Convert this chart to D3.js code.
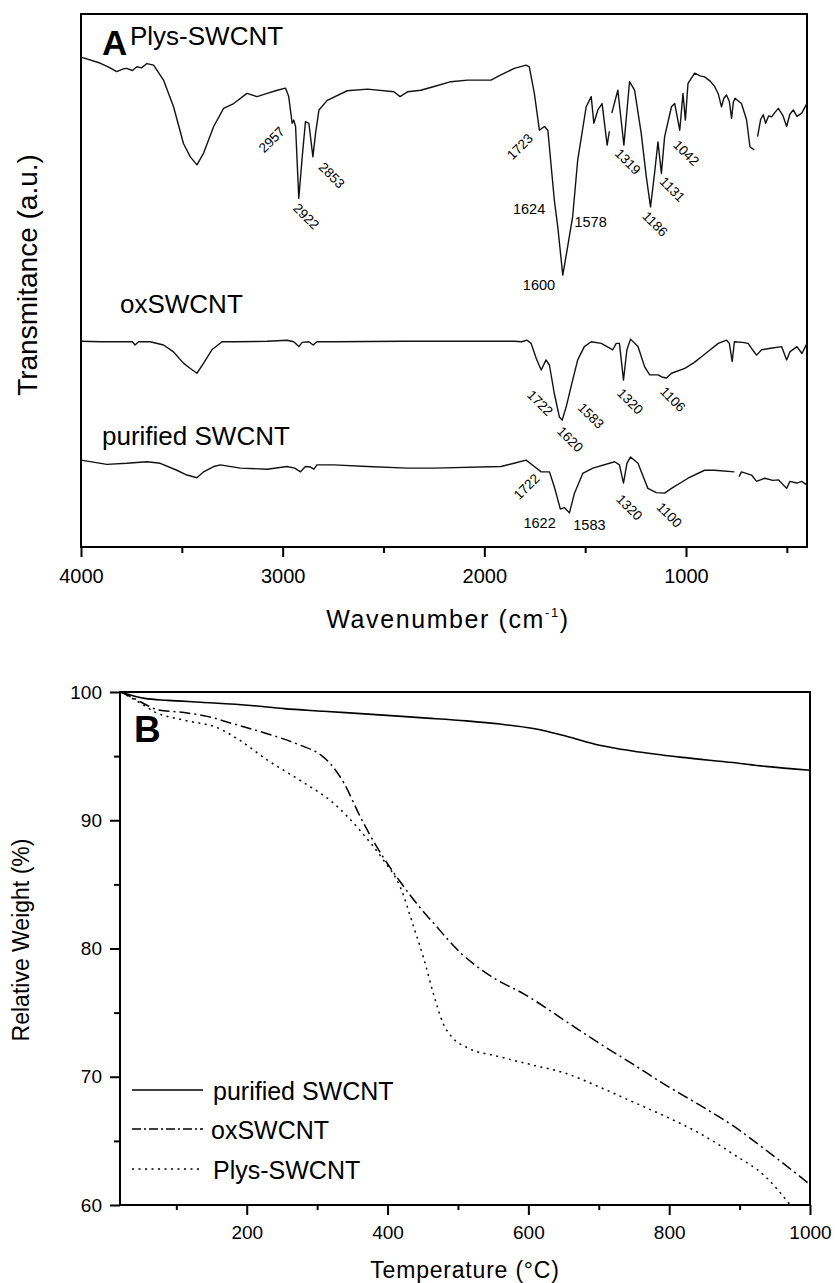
<!DOCTYPE html>
<html>
<head>
<meta charset="utf-8">
<script src="https://cdn.jsdelivr.net/npm/d3@7"></script>
<style>
  body { margin: 0; background: #fff; }
  svg { font-family: "Liberation Sans", Arial, Helvetica, sans-serif; }
</style>
</head>
<body>
<svg id="chart" width="835" height="1283"></svg>
<script>
// ---- Panel A: FTIR spectra, [wavenumber (cm-1), transmittance (a.u.)], null = break in trace
var plysIR = [
  [4000, 91.9], [3906, 90.8], [3860, 90.0], [3823, 89.2], [3790, 89.7], [3773, 89.8], [3745, 89.4],
  [3723, 90.1], [3700, 89.9], [3673, 90.7], [3640, 90.4], [3591, 87.6], [3541, 82.6], [3492, 75.7],
  [3458, 73.2], [3425, 71.7], [3392, 73.9], [3342, 78.9], [3293, 82.3], [3243, 83.2], [3177, 85.1],
  [3127, 84.5], [3077, 85.1], [3027, 85.7], [2986, 86.1], [2970, 84.5], [2953, 79.5], [2945, 80.1],
  [2936, 78.9], [2920, 65.4], [2903, 73.2], [2887, 79.8], [2870, 79.5], [2850, 73.2], [2837, 77.6],
  [2820, 82.0], [2779, 83.8], [2680, 85.6], [2580, 85.9], [2448, 85.4], [2418, 84.5], [2381, 85.4],
  [2315, 85.7], [2249, 86.4], [2166, 87.3], [2083, 87.6], [1967, 87.6], [1918, 88.6], [1851, 89.8],
  [1793, 90.4], [1777, 90.1], [1752, 85.1], [1727, 78.2], [1702, 78.9], [1685, 78.2], [1653, 65.1],
  [1636, 60.1], [1611, 51.0], [1587, 56.3], [1562, 62.0], [1537, 72.6], [1495, 82.6], [1470, 84.5],
  [1457, 79.5], [1437, 82.0], [1416, 83.2], [1391, 75.4], [1380, 78.0], [1374, null], [1368, 81.4],
  [1338, 85.7], [1308, 75.4], [1280, 87.3], [1255, 85.7], [1222, 77.6], [1197, 69.5], [1176, 63.8],
  [1156, 70.1], [1139, 76.0], [1122, 70.1], [1106, 77.0], [1072, 82.6], [1056, 83.2], [1031, 78.2],
  [1015, 85.1], [1003, 80.1], [990, 87.0], [957, 88.9], [930, 88.4], [908, 88.2], [880, 87.4],
  [858, 86.4], [840, 85.0], [824, 82.6], [812, 84.2], [799, 84.8], [785, 83.6], [774, 80.4], [765, 83.5],
  [757, 84.2], [725, 83.2], [700, 80.2], [683, 75.1], [662, 74.5], [654, null], [645, 77.0],
  [630, 80.2], [617, 81.1], [605, 79.5], [590, 80.9], [575, 80.7], [560, 81.5], [542, 82.3],
  [520, 81.0], [501, 78.9], [485, 81.2], [468, 82.0], [450, 80.8], [426, 81.4], [412, 82.4],
  [401, 83.2]
];
var oxIR = [
  [4000, 38.6], [3900, 38.5], [3806, 38.5], [3745, 38.5], [3732, 37.9], [3715, 38.5], [3657, 38.5],
  [3591, 37.9], [3541, 36.6], [3492, 34.5], [3458, 33.5], [3425, 32.6], [3392, 34.5], [3351, 37.0],
  [3301, 38.5], [3243, 38.5], [3077, 38.6], [2978, 38.8], [2945, 38.5], [2920, 37.6], [2903, 38.4],
  [2870, 38.5], [2849, 37.9], [2830, 38.5], [2746, 38.5], [2400, 38.6], [2249, 38.6], [1851, 38.6],
  [1815, 38.5], [1788, 38.8], [1768, 38.2], [1743, 35.4], [1718, 33.2], [1694, 35.1], [1677, 34.1],
  [1653, 28.8], [1628, 24.4], [1614, 23.8], [1594, 26.3], [1570, 30.1], [1537, 35.1], [1504, 37.6],
  [1470, 38.5], [1420, 38.2], [1363, 37.0], [1346, 38.2], [1330, 38.2], [1310, 31.3], [1293, 37.0],
  [1275, 39.0], [1238, 37.6], [1205, 33.8], [1180, 32.3], [1139, 32.3], [1120, 31.9], [1097, 31.7],
  [1072, 32.6], [1006, 33.5], [960, 34.6], [923, 35.7], [880, 37.0], [840, 38.2], [799, 38.8],
  [785, 38.2], [771, 34.8], [760, 38.5], [720, 38.4], [692, 38.2], [670, 37.0], [650, 36.0],
  [625, 37.0], [580, 37.3], [526, 37.6], [501, 35.1], [485, 36.6], [450, 37.6], [425, 36.3],
  [400, 38.2]
];
var purifiedIR = [
  [4000, 16.3], [3872, 15.5], [3773, 15.7], [3673, 16.0], [3607, 15.7], [3525, 14.4], [3475, 13.5],
  [3425, 13.0], [3392, 14.1], [3342, 15.1], [3309, 15.4], [3210, 14.8], [3077, 14.6], [2978, 15.1],
  [2940, 14.8], [2912, 14.1], [2887, 15.1], [2862, 15.0], [2845, 14.6], [2830, 15.4], [2746, 15.4],
  [2580, 15.1], [2381, 14.8], [2249, 14.8], [1918, 15.1], [1843, 15.8], [1793, 16.3], [1752, 15.1],
  [1718, 14.1], [1677, 14.1], [1653, 11.3], [1623, 7.1], [1603, 7.4], [1578, 6.4], [1553, 10.1],
  [1512, 13.8], [1462, 14.8], [1354, 16.0], [1330, 15.4], [1310, 12.0], [1293, 15.7], [1275, 16.9],
  [1238, 15.7], [1189, 11.0], [1147, 10.2], [1106, 10.1], [1072, 11.0], [990, 12.9], [908, 14.4],
  [858, 14.4], [760, 14.1], [748, null], [737, 13.2], [725, 14.1], [675, 13.5], [650, 12.3],
  [609, 12.9], [570, 12.5], [542, 12.6], [501, 11.0], [485, 12.3], [450, 12.0], [426, 12.3],
  [400, 11.6]
];
var irTicksMajor = [4000, 3000, 2000, 1000];
var irTicksMinor = [3500, 2500, 1500, 500];

// peak labels: [text, wavenumber, a.u., rotation]
var irPeakLabels = [
  ["2957", 3054, 76.4, -45], ["2922", 2884, 62.0, 45], ["2853", 2757, 69.7, 45],
  ["1723", 1823, 75.1, -45], ["1624", 1778, 63.4, 0], ["1578", 1473, 60.9, 0],
  ["1600", 1729, 49.2, 0], ["1319", 1289, 72.3, 45], ["1186", 1154, 60.6, 45],
  ["1131", 1068, 67.1, 45], ["1042", 1000, 73.9, 45],
  ["1722", 1724, 27.0, 45], ["1620", 1575, 20.2, 45], ["1583", 1472, 24.6, 45],
  ["1320", 1277, 27.3, 45], ["1106", 1066, 27.7, 45],
  ["1722", 1790, 11.3, -45], ["1622", 1726, 4.5, 0], ["1583", 1479, 4.1, 0],
  ["1320", 1281, 7.4, 45], ["1100", 1083, 6.0, 45]
];

// ---- Panel B: TGA, [temperature (C), relative weight (%)]
var purifiedTGA = [
  [21, 100], [55, 99.5], [88, 99.35], [135, 99.2], [206, 98.95], [253, 98.7], [309, 98.5],
  [394, 98.2], [446, 98.0], [512, 97.75], [560, 97.5], [607, 97.15], [654, 96.55], [701, 95.85],
  [748, 95.4], [819, 94.9], [890, 94.5], [937, 94.2], [1000, 93.9]
];
var oxTGA = [
  [21, 100], [40, 99.5], [59, 98.95], [74, 98.6], [111, 98.4], [144, 98.1], [182, 97.5],
  [229, 96.75], [276, 95.85], [305, 95.1], [319, 94.4], [338, 92.9], [361, 90.3], [385, 87.9],
  [418, 85.2], [446, 83.2], [465, 82.0], [503, 79.7], [545, 77.9], [597, 76.35], [654, 74.3],
  [701, 72.6], [748, 71.0], [795, 69.35], [843, 67.8], [890, 66.2], [937, 64.3], [1000, 61.6]
];
var plysTGA = [
  [21, 100], [50, 99.1], [69, 98.45], [111, 97.8], [159, 97.2], [187, 96.35], [229, 94.7],
  [276, 93.1], [324, 91.3], [361, 89.2], [394, 86.9], [418, 84.8], [437, 81.7], [451, 79.3],
  [465, 76.5], [479, 74.15], [493, 73.0], [512, 72.3], [560, 71.55], [607, 70.9], [654, 70.25],
  [701, 69.2], [748, 68.05], [795, 66.9], [843, 65.6], [890, 64.0], [937, 62.2], [972, 60.0]
];
var tgaXMajor = [200, 400, 600, 800, 1000];
var tgaXMinor = [100, 300, 500, 700, 900];
var tgaYMajor = [60, 70, 80, 90, 100];
var tgaYMinor = [65, 75, 85, 95];
var tgaNames = ["purified SWCNT", "oxSWCNT", "Plys-SWCNT"];
var tgaDash = [null, "11,4,2,4", "2,4.5"];

var svg = d3.select("#chart");

// ================= Panel A =================
var xA = d3.scaleLinear().domain([4000, 400]).range([81, 807]);
var yA = d3.scaleLinear().domain([0, 100]).range([547, 14]);

var lineA = d3.line()
    .defined(function (d) { return d[1] != null; })
    .x(function (d) { return xA(d[0]); })
    .y(function (d) { return yA(d[1]); });

var gA = svg.append("g");

gA.append("rect")
    .attr("x", 81).attr("y", 14).attr("width", 726).attr("height", 533)
    .attr("fill", "none").attr("stroke", "#000").attr("stroke-width", 2);

[plysIR, oxIR, purifiedIR].forEach(function (s) {
  gA.append("path")
      .datum(s)
      .attr("d", lineA)
      .attr("fill", "none")
      .attr("stroke", "#111")
      .attr("stroke-width", 1.4)
      .attr("stroke-linejoin", "round");
});

// x axis (ticks pointing out)
var axA = gA.append("g").attr("transform", "translate(0,547)")
    .call(d3.axisBottom(xA).tickValues(irTicksMajor).tickFormat(d3.format("d"))
      .tickSize(10).tickPadding(12).tickSizeOuter(0));
axA.append("g").call(d3.axisBottom(xA).tickValues(irTicksMinor).tickFormat("").tickSize(6).tickSizeOuter(0))
    .select(".domain").remove();
axA.selectAll(".domain").remove();
axA.attr("font-family", null).attr("font-size", null);
axA.selectAll("line").attr("stroke-width", 2);
axA.selectAll("text").attr("font-size", 20).attr("fill", "#000");

// peak labels
gA.selectAll("text.peak")
  .data(irPeakLabels)
  .enter().append("text")
    .attr("class", "peak")
    .attr("transform", function (d) {
      return "translate(" + xA(d[1]) + "," + yA(d[2]) + ") rotate(" + d[3] + ")";
    })
    .attr("text-anchor", "middle")
    .attr("dominant-baseline", "central")
    .attr("font-size", function (d) { return d[3] === 0 ? 14.5 : 13.5; })
    .text(function (d) { return d[0]; });

// panel letter and series names
gA.append("text").attr("x", 102).attr("y", 55)
    .attr("font-size", 35).attr("font-weight", "bold").text("A");
gA.append("text").attr("x", 130).attr("y", 45).attr("font-size", 26).text("Plys-SWCNT");
gA.append("text").attr("x", 120).attr("y", 313).attr("font-size", 26).text("oxSWCNT");
gA.append("text").attr("x", 102).attr("y", 445).attr("font-size", 26).text("purified SWCNT");

// axis titles
gA.append("text")
    .attr("transform", "translate(37,275) rotate(-90)")
    .attr("text-anchor", "middle")
    .attr("font-size", 28)
    .text("Transmitance (a.u.)");

var wl = gA.append("text")
    .attr("x", 448).attr("y", 628)
    .attr("text-anchor", "middle")
    .attr("font-size", 25)
    .attr("letter-spacing", 1.6);
wl.append("tspan").text("Wavenumber (cm");
wl.append("tspan").attr("font-size", 13).attr("dy", -11).text("-1");
wl.append("tspan").attr("dy", 11).text(")");

// ================= Panel B =================
var xB = d3.scaleLinear().domain([20, 1000]).range([120, 810]);
var yB = d3.scaleLinear().domain([60, 100]).range([1205, 692]);

var lineB = d3.line()
    .x(function (d) { return xB(d[0]); })
    .y(function (d) { return yB(d[1]); })
    .curve(d3.curveMonotoneX);

var gB = svg.append("g");

gB.append("rect")
    .attr("x", 120).attr("y", 692).attr("width", 690).attr("height", 513)
    .attr("fill", "none").attr("stroke", "#000").attr("stroke-width", 2);

[purifiedTGA, oxTGA, plysTGA].forEach(function (s, i) {
  gB.append("path")
      .datum(s)
      .attr("d", lineB)
      .attr("fill", "none")
      .attr("stroke", "#000")
      .attr("stroke-width", i === 0 ? 1.6 : 1.5)
      .attr("stroke-dasharray", tgaDash[i]);
});

var axBx = gB.append("g").attr("transform", "translate(0,1205)")
    .call(d3.axisBottom(xB).tickValues(tgaXMajor).tickFormat(d3.format("d"))
      .tickSize(10).tickPadding(11).tickSizeOuter(0));
axBx.append("g").call(d3.axisBottom(xB).tickValues(tgaXMinor).tickFormat("").tickSize(5).tickSizeOuter(0));
axBx.selectAll(".domain").remove();

var axBy = gB.append("g").attr("transform", "translate(120,0)")
    .call(d3.axisLeft(yB).tickValues(tgaYMajor).tickFormat(d3.format("d"))
      .tickSize(10).tickPadding(8).tickSizeOuter(0));
axBy.append("g").call(d3.axisLeft(yB).tickValues(tgaYMinor).tickFormat("").tickSize(6).tickSizeOuter(0));
axBy.selectAll(".domain").remove();

[axBx, axBy].forEach(function (a) {
  a.attr("font-family", null).attr("font-size", null);
  a.selectAll("line").attr("stroke-width", 2);
  a.selectAll("text").attr("font-size", 19).attr("fill", "#000");
});

gB.append("text").attr("x", 134).attr("y", 742)
    .attr("font-size", 37).attr("font-weight", "bold").text("B");

// legend
var legY = [1090, 1129, 1169];
tgaNames.forEach(function (name, i) {
  gB.append("line")
      .attr("x1", 132).attr("x2", 203).attr("y1", legY[i]).attr("y2", legY[i])
      .attr("stroke", "#000").attr("stroke-width", 1.6)
      .attr("stroke-dasharray", i === 1 ? "9,3,2,3" : tgaDash[i]);
  gB.append("text")
      .attr("x", i === 1 ? 211 : 213).attr("y", legY[i] + 10)
      .attr("font-size", 25)
      .text(name);
});

gB.append("text")
    .attr("transform", "translate(29,940) rotate(-90)")
    .attr("text-anchor", "middle")
    .attr("font-size", 23)
    .text("Relative Weight (%)");

gB.append("text")
    .attr("x", 465).attr("y", 1278)
    .attr("text-anchor", "middle")
    .attr("font-size", 23)
    .attr("letter-spacing", 0.8)
    .text("Temperature (°C)");
</script>
</body>
</html>
